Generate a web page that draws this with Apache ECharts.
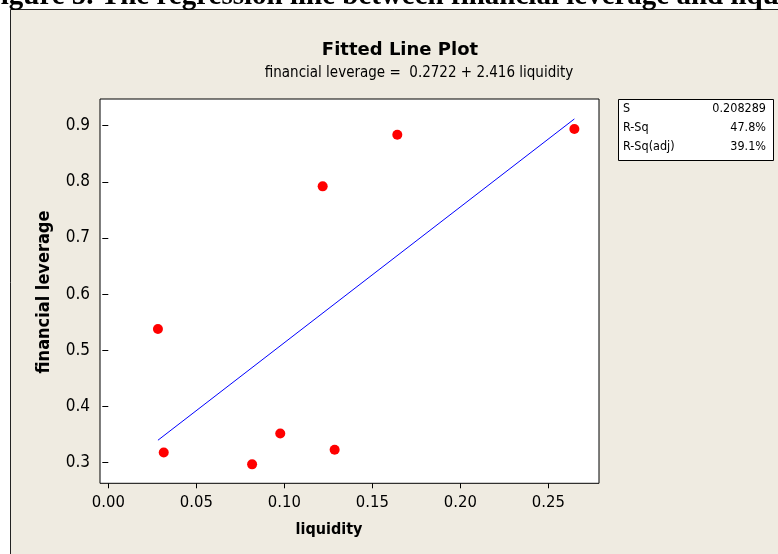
<!DOCTYPE html>
<html>
<head>
<meta charset="utf-8">
<script src="https://cdn.jsdelivr.net/npm/echarts@6/dist/echarts.min.js"></script>
<style>html,body{margin:0;padding:0;background:#fff;}#c{width:778px;height:554px;}</style>
</head>
<body>
<div id="c"></div>
<script>
// Data
const liquidity = [0.0282, 0.0315, 0.0817, 0.0977, 0.1218, 0.1286, 0.1642, 0.2648];
const leverage  = [0.538, 0.318, 0.297, 0.352, 0.792, 0.323, 0.884, 0.894];
const fitX = [0.0282, 0.2648];
const fitY = [0.340, 0.912];
const xTicks = [0, 0.05, 0.10, 0.15, 0.20, 0.25];
const yTicks = [0.3, 0.4, 0.5, 0.6, 0.7, 0.8, 0.9];
const statNames = ['S', 'R-Sq', 'R-Sq(adj)'];
const statValues = ['0.208289', '47.8%', '39.1%'];
const heading = 'Figure 5. The regression line between financial leverage and liquidity';
const titleText = 'Fitted Line Plot';
const subtitleText = 'financial leverage =  0.2722 + 2.416 liquidity';
const xName = 'liquidity';
const yName = 'financial leverage';

const FONT = '"DejaVu Sans Condensed", "DejaVu Sans", sans-serif';
const BEIGE = '#EFEBE1';

const chart = echarts.init(document.getElementById('c'), null, {renderer: 'canvas'});

const graphics = [
  {type: 'rect', z: -10, shape: {x: 10.5, y: 9.5, width: 800, height: 600},
   style: {fill: BEIGE, stroke: '#222', lineWidth: 1}},
  {type: 'text', z: 10, x: -17, y: -3,
   style: {text: heading, font: 'bold 29px "Liberation Serif", "Times New Roman", serif',
           fill: '#000', align: 'left', verticalAlign: 'middle'}},
  {type: 'text', x: 400, y: 50,
   style: {text: titleText, font: 'bold 18px "DejaVu Sans", sans-serif', fill: '#000',
           align: 'center', verticalAlign: 'middle'}},
  {type: 'text', x: 419, y: 73,
   style: {text: subtitleText, font: '15px ' + FONT, fill: '#000',
           align: 'center', verticalAlign: 'middle'}},
  {type: 'text', x: 329, y: 530,
   style: {text: xName, font: 'bold 16px ' + FONT, fill: '#000',
           align: 'center', verticalAlign: 'middle'}},
  {type: 'text', x: 44, y: 292, rotation: Math.PI / 2,
   style: {text: yName, font: 'bold 18px ' + FONT, fill: '#000',
           align: 'center', verticalAlign: 'middle'}},
  {type: 'rect', shape: {x: 618.5, y: 99.5, width: 155, height: 61},
   style: {fill: '#fff', stroke: '#000', lineWidth: 1}}
];
statNames.forEach(function (n, i) {
  graphics.push({type: 'text', x: 623, y: 108.5 + i * 19,
    style: {text: n, font: '12.5px ' + FONT, fill: '#000', align: 'left', verticalAlign: 'middle'}});
  graphics.push({type: 'text', x: 766, y: 108.5 + i * 19,
    style: {text: statValues[i], font: '12.5px ' + FONT, fill: '#000', align: 'right', verticalAlign: 'middle'}});
});

chart.setOption({
  backgroundColor: '#fff',
  animation: false,
  grid: {left: 100, top: 99, width: 499, height: 384.3, show: true,
         backgroundColor: '#fff', borderColor: '#000', borderWidth: 1},
  xAxis: {
    type: 'value', min: -0.00472, max: 0.2788,
    axisLine: {show: false},
    splitLine: {show: false},
    axisTick: {show: true, length: 5, customValues: xTicks, lineStyle: {color: '#000'}},
    axisLabel: {customValues: xTicks, margin: 11, color: '#000', fontSize: 16.5, fontFamily: FONT,
                formatter: function (v) { return v.toFixed(2); }}
  },
  yAxis: {
    type: 'value', min: 0.2633, max: 0.9475,
    axisLine: {show: false},
    splitLine: {show: false},
    axisTick: {show: true, length: 6, customValues: yTicks, lineStyle: {color: '#000'}},
    axisLabel: {customValues: yTicks, margin: 10, color: '#000', fontSize: 17, fontFamily: FONT,
                formatter: function (v) { return v.toFixed(1); }}
  },
  graphic: graphics,
  series: [
    {type: 'line', data: fitX.map(function (x, i) { return [x, fitY[i]]; }),
     showSymbol: false, symbol: 'none', lineStyle: {color: '#0000FF', width: 1}, z: 2},
    {type: 'scatter', data: liquidity.map(function (x, i) { return [x, leverage[i]]; }),
     symbol: 'circle', symbolSize: 10, itemStyle: {color: '#FF0000', opacity: 1}, z: 3}
  ]
});
</script>
</body>
</html>
